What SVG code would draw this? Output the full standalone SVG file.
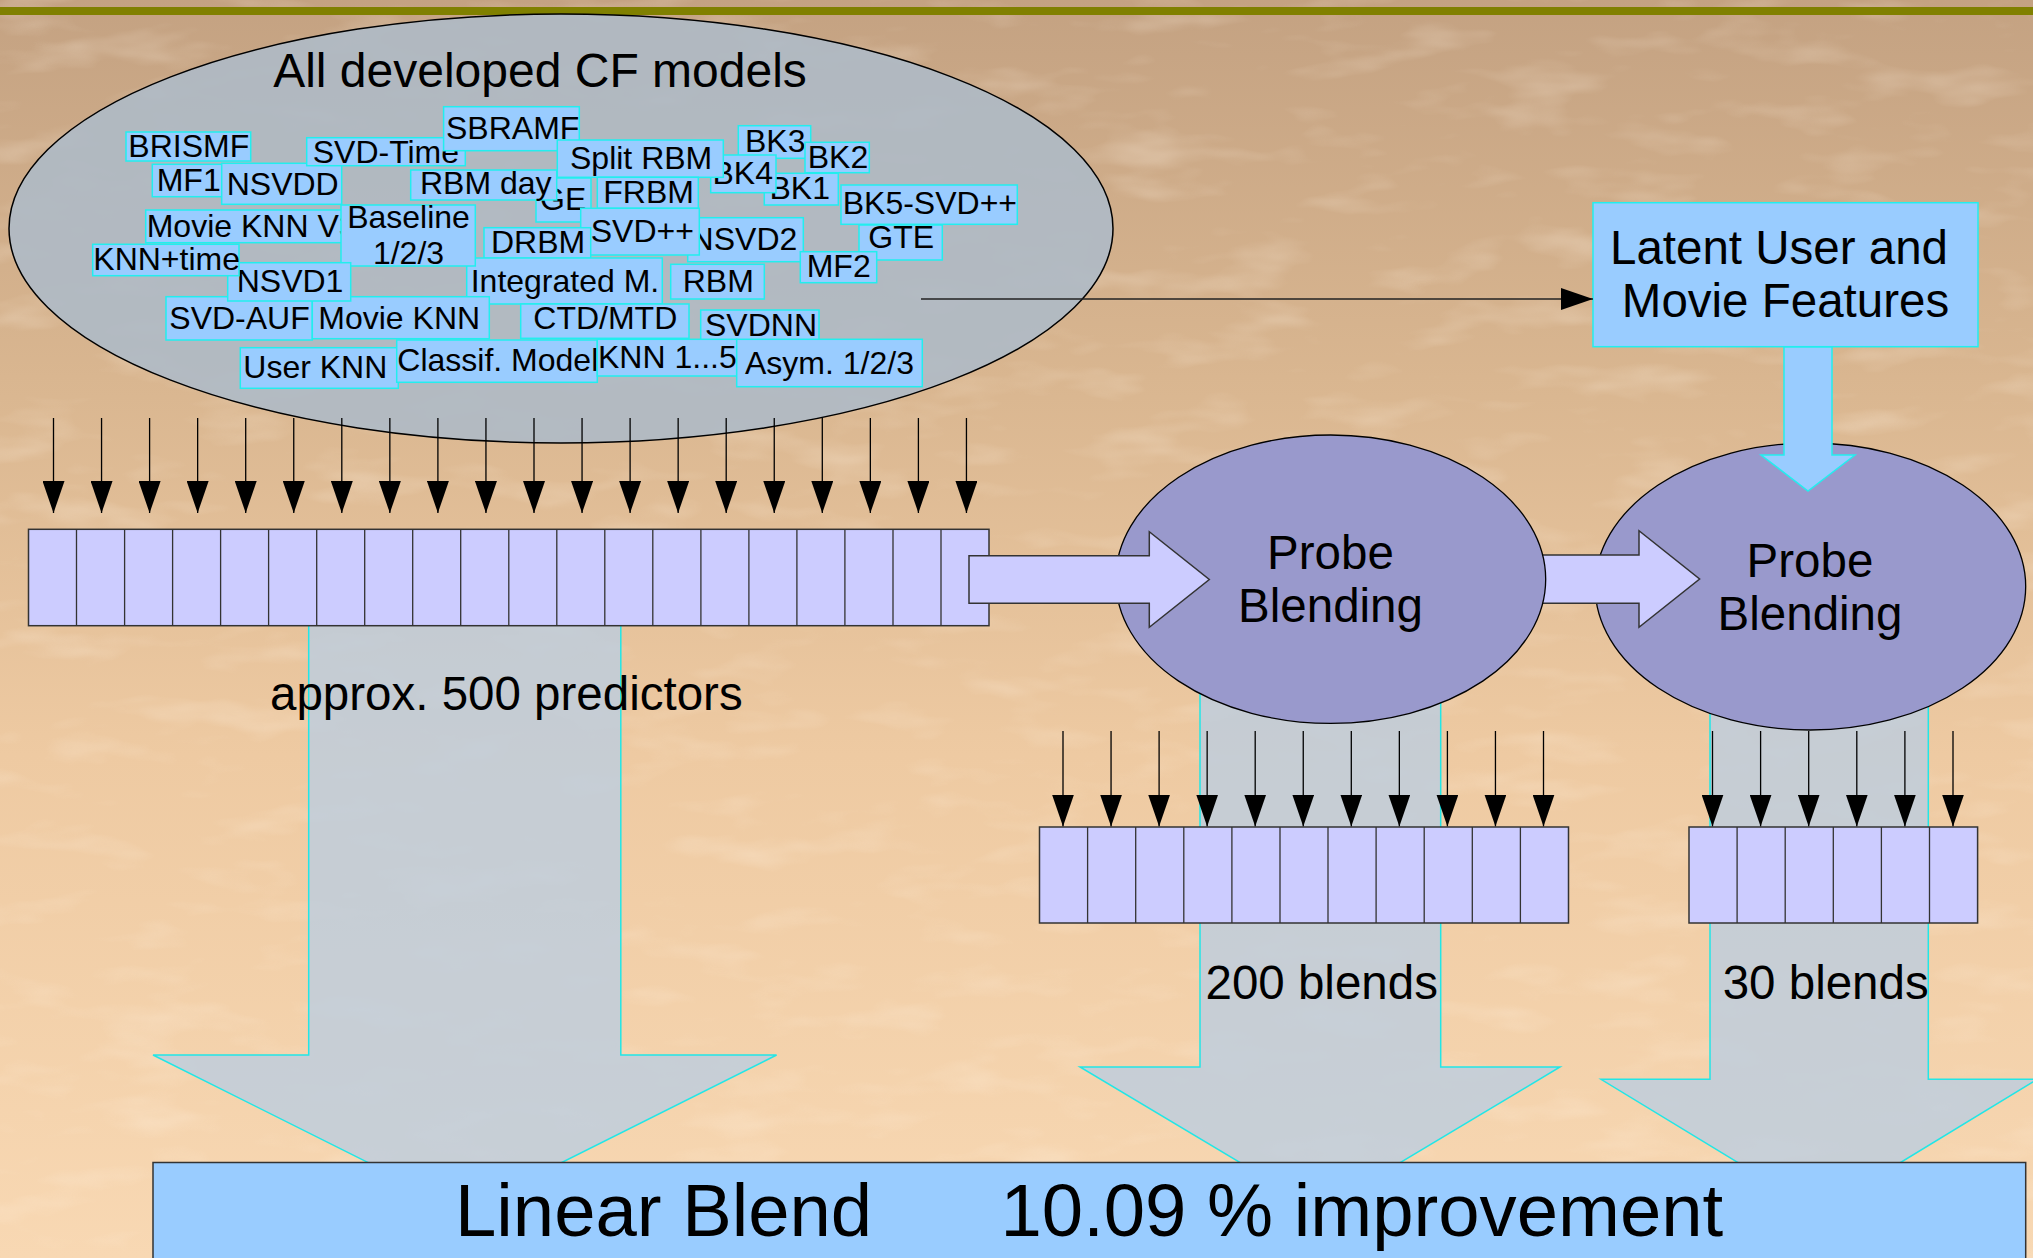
<svg xmlns="http://www.w3.org/2000/svg" width="2033" height="1258" viewBox="0 0 2033 1258">
  <style>
    text { font-family: "Liberation Sans", Arial, sans-serif; fill: #000; }
    .lbl { font-size: 32px; }
    .big { font-size: 47.5px; }
    .huge { font-size: 74.3px; }
    .mid { text-anchor: middle; }
    .tag { fill: #99ccff; stroke: #22eeee; stroke-width: 1.5; }
    .flow { fill: #bccde0; fill-opacity: 0.8; stroke: #22e6e6; stroke-width: 1.5; }
    .cell { fill: #ccccff; stroke: #333; stroke-width: 1.5; }
    .div { stroke: #333; stroke-width: 1.3; }
    .feed line { stroke: #000; stroke-width: 1.3; marker-end: url(#ah); }
    .probe { fill: #9999cc; stroke: #000; stroke-width: 1.3; }
    .block { fill: #ccccff; stroke: #333; stroke-width: 1.5; }
  </style>
  <defs>
    <linearGradient id="bg" x1="0" y1="0" x2="0" y2="1">
      <stop offset="0" stop-color="#c4a282"/>
      <stop offset="0.3" stop-color="#d9b690"/>
      <stop offset="0.6" stop-color="#eecaa2"/>
      <stop offset="1" stop-color="#f8d8b3"/>
    </linearGradient>
    <filter id="grain" x="0" y="0" width="100%" height="100%">
      <feTurbulence type="fractalNoise" baseFrequency="0.01 0.03" numOctaves="3" seed="11"/>
      <feColorMatrix type="matrix" values="0 0 0 0 1  0 0 0 0 0.9  0 0 0 0 0.78  2.6 0 0 0 -1.35"/>
    </filter>
    <marker id="ah" viewBox="0 0 32 22" refX="32" refY="11" markerWidth="32" markerHeight="22" markerUnits="userSpaceOnUse" orient="auto">
      <path d="M0,0 L32,11 L0,22 Z" fill="#000"/>
    </marker>
  </defs>

  <!-- background -->
  <rect x="0" y="0" width="2033" height="1258" fill="url(#bg)"/>
  <rect x="0" y="0" width="2033" height="1258" filter="url(#grain)" opacity="0.25"/>
  <rect x="0" y="7" width="2033" height="8" fill="#808000"/>

  <!-- wide translucent arrows into the final blend -->
  <g id="flows">
    <polygon class="flow" points="308.7,600 620.8,600 620.8,1055 776.6,1055 464.8,1211 153,1055 308.7,1055"/>
    <polygon class="flow" points="1200,650 1440.7,650 1440.7,1067 1560,1067 1320.3,1210.5 1080,1067 1200,1067"/>
    <polygon class="flow" points="1710,660 1928.3,660 1928.3,1079.3 2037.4,1079.3 1819.2,1212 1601,1079.3 1710,1079.3"/>
  </g>

  <!-- pool of collaborative filtering models -->
  <g id="cf-models">
    <ellipse cx="561" cy="228.5" rx="552" ry="214.5" fill="#aebac6" fill-opacity="0.9" stroke="#000" stroke-width="1.5"/>
    <text class="big mid" x="540" y="87" style="font-size:48px">All developed CF models</text>

    <g id="m-brismf"><rect class="tag" x="126" y="132" width="124.7" height="29"/><text class="lbl" x="128.3" y="156.7">BRISMF</text></g>
    <g id="m-mf1"><rect class="tag" x="152.3" y="164.3" width="71.7" height="32.4"/><text class="lbl" x="156.7" y="190.7">MF1</text></g>
    <g id="m-nsvdd"><rect class="tag" x="221.7" y="163.3" width="120" height="41"/><text class="lbl" x="226.7" y="195">NSVDD</text></g>
    <g id="m-svdtime"><rect class="tag" x="306.7" y="137.7" width="158.6" height="28"/><text class="lbl" x="312.7" y="162.7">SVD-Time</text></g>
    <g id="m-sbramf"><rect class="tag" x="443.6" y="106.7" width="135.7" height="44"/><text class="lbl" x="446" y="139.3">SBRAMF</text></g>
    <g id="m-bk3"><rect class="tag" x="738.3" y="125.7" width="72.4" height="32.6"/><text class="lbl" x="745" y="152.3">BK3</text></g>
    <g id="m-bk2"><rect class="tag" x="805" y="142.3" width="64.3" height="30.4"/><text class="lbl" x="807.7" y="168.3">BK2</text></g>
    <g id="m-bk1"><rect class="tag" x="764.3" y="173.3" width="74" height="31.7"/><text class="lbl" x="769.5" y="199">BK1</text></g>
    <g id="m-bk4"><rect class="tag" x="710.7" y="155" width="65.3" height="37.7"/><text class="lbl" x="712.5" y="184">BK4</text></g>
    <g id="m-splitrbm"><rect class="tag" x="557.3" y="140" width="166" height="37.3"/><text class="lbl" x="570" y="169">Split RBM</text></g>
    <g id="m-ge"><rect class="tag" x="536" y="178" width="55" height="44"/><text class="lbl" x="540" y="209.5">GE</text></g>
    <g id="m-rbmday"><rect class="tag" x="410.7" y="170" width="146" height="30"/><text class="lbl" x="420" y="194.3">RBM day</text></g>
    <g id="m-frbm"><rect class="tag" x="597.3" y="177.3" width="101" height="31"/><text class="lbl" x="603.3" y="203.3">FRBM</text></g>
    <g id="m-nsvd2"><rect class="tag" x="687.7" y="217.7" width="115.6" height="44"/><text class="lbl" x="690.6" y="250">NSVD2</text></g>
    <g id="m-svdpp"><rect class="tag" x="580.7" y="208.3" width="118.6" height="46.7"/><text class="lbl" x="590.7" y="241.7">SVD++</text></g>
    <g id="m-drbm"><rect class="tag" x="484" y="227.7" width="106.7" height="30.6"/><text class="lbl" x="491" y="252.7">DRBM</text></g>
    <g id="m-movieknnv3"><rect class="tag" x="145.7" y="210" width="197.3" height="32.7"/><text class="lbl" x="146.7" y="236.7">Movie KNN V3</text></g>
    <g id="m-integrated"><rect class="tag" x="466.7" y="258" width="195.6" height="46"/><text class="lbl" x="470.7" y="291.7">Integrated M.</text></g>
    <g id="m-baseline"><rect class="tag" x="341" y="205" width="134.3" height="61"/><text class="lbl mid" x="408.5" y="228.3">Baseline</text><text class="lbl mid" x="408.5" y="264">1/2/3</text></g>
    <g id="m-gte"><rect class="tag" x="859" y="225" width="83.3" height="35"/><text class="lbl" x="868.3" y="248.3">GTE</text></g>
    <g id="m-mf2"><rect class="tag" x="800.3" y="251.7" width="76.4" height="31"/><text class="lbl" x="806.7" y="276.7">MF2</text></g>
    <g id="m-bk5"><rect class="tag" x="841" y="185" width="176.3" height="39.3"/><text class="lbl" x="842.7" y="214.3">BK5-SVD++</text></g>
    <g id="m-svdauf"><rect class="tag" x="166" y="296.7" width="146.3" height="43.3"/><text class="lbl" x="169.3" y="328.7">SVD-AUF</text></g>
    <g id="m-movieknn"><rect class="tag" x="312.3" y="296.7" width="177" height="42"/><text class="lbl" x="318.3" y="328.7">Movie KNN</text></g>
    <g id="m-nsvd1"><rect class="tag" x="227.7" y="262.7" width="123" height="38.3"/><text class="lbl" x="236.7" y="292.3">NSVD1</text></g>
    <g id="m-knntime"><rect class="tag" x="92.7" y="244.3" width="146.3" height="31.4"/><text class="lbl" x="93.3" y="270">KNN+time</text></g>
    <g id="m-ctdmtd"><rect class="tag" x="520.7" y="304" width="168.3" height="34.3"/><text class="lbl" x="533.3" y="329">CTD/MTD</text></g>
    <g id="m-rbm"><rect class="tag" x="670.7" y="264.3" width="93.6" height="34.7"/><text class="lbl" x="682.7" y="291.7">RBM</text></g>
    <g id="m-svdnn"><rect class="tag" x="700.7" y="310" width="118.3" height="31.7"/><text class="lbl" x="705" y="336">SVDNN</text></g>
    <g id="m-userknn"><rect class="tag" x="240.3" y="347.7" width="158" height="40.6"/><text class="lbl" x="243.3" y="378.3">User KNN</text></g>
    <g id="m-classif"><rect class="tag" x="396.7" y="340" width="200.6" height="42.3"/><text class="lbl" x="397.3" y="370.7">Classif. Models</text></g>
    <g id="m-knn15"><rect class="tag" x="597.3" y="339.3" width="139.4" height="36.7"/><text class="lbl" x="598" y="368.3">KNN 1...5</text></g>
    <g id="m-asym"><rect class="tag" x="736.7" y="339.3" width="185.6" height="47.4"/><text class="lbl" x="745" y="374.3">Asym. 1/2/3</text></g>
  </g>

  <!-- latent feature box -->
  <g id="latent">
    <rect class="tag" x="1593" y="202.7" width="385" height="144"/>
    <text class="big mid" x="1779" y="264">Latent User and</text>
    <text class="big mid" x="1785.5" y="317">Movie Features</text>
  </g>

  <!-- second probe blending stage -->
  <g id="probe2">
    <ellipse class="probe" cx="1810.4" cy="586.5" rx="215.3" ry="143.5"/>
    <text class="big mid" x="1810" y="577">Probe</text>
    <text class="big mid" x="1810" y="630">Blending</text>
  </g>

  <g id="connectors">
    <!-- model outputs into predictor vector -->
    <g class="feed">
      <line x1="53.5" y1="418" x2="53.5" y2="513"/>
      <line x1="101.55" y1="418" x2="101.55" y2="513"/>
      <line x1="149.6" y1="418" x2="149.6" y2="513"/>
      <line x1="197.65" y1="418" x2="197.65" y2="513"/>
      <line x1="245.7" y1="418" x2="245.7" y2="513"/>
      <line x1="293.75" y1="418" x2="293.75" y2="513"/>
      <line x1="341.8" y1="418" x2="341.8" y2="513"/>
      <line x1="389.85" y1="418" x2="389.85" y2="513"/>
      <line x1="437.9" y1="418" x2="437.9" y2="513"/>
      <line x1="485.95" y1="418" x2="485.95" y2="513"/>
      <line x1="534" y1="418" x2="534" y2="513"/>
      <line x1="582.05" y1="418" x2="582.05" y2="513"/>
      <line x1="630.1" y1="418" x2="630.1" y2="513"/>
      <line x1="678.15" y1="418" x2="678.15" y2="513"/>
      <line x1="726.2" y1="418" x2="726.2" y2="513"/>
      <line x1="774.25" y1="418" x2="774.25" y2="513"/>
      <line x1="822.3" y1="418" x2="822.3" y2="513"/>
      <line x1="870.35" y1="418" x2="870.35" y2="513"/>
      <line x1="918.4" y1="418" x2="918.4" y2="513"/>
      <line x1="966.45" y1="418" x2="966.45" y2="513"/>
      <!-- models to latent features -->
      <line x1="921" y1="299" x2="1593" y2="299" style="stroke:#222"/>
    </g>
    <!-- latent features into second probe blend -->
    <path d="M1784,347 H1832 V455 H1855 L1808,491 L1761,455 H1784 Z" fill="#99ccff" stroke="#22eeee" stroke-width="1.5"/>
    <!-- first probe blend to second -->
    <path class="block" d="M1520,555 H1639 V530.7 L1699.6,579 L1639,627.3 V603.3 H1520 Z"/>
  </g>

  <!-- first probe blending stage -->
  <g id="probe1">
    <ellipse class="probe" cx="1330.7" cy="579.2" rx="215" ry="144.2"/>
    <text class="big mid" x="1330.5" y="569">Probe</text>
    <text class="big mid" x="1330.5" y="622">Blending</text>
  </g>

  <g id="connectors-2">
    <!-- blend outputs into the blend vectors -->
    <g class="feed">
      <line x1="1063" y1="731" x2="1063" y2="826.5"/>
      <line x1="1111.05" y1="731" x2="1111.05" y2="826.5"/>
      <line x1="1159.1" y1="731" x2="1159.1" y2="826.5"/>
      <line x1="1207.15" y1="731" x2="1207.15" y2="826.5"/>
      <line x1="1255.2" y1="731" x2="1255.2" y2="826.5"/>
      <line x1="1303.25" y1="731" x2="1303.25" y2="826.5"/>
      <line x1="1351.3" y1="731" x2="1351.3" y2="826.5"/>
      <line x1="1399.35" y1="731" x2="1399.35" y2="826.5"/>
      <line x1="1447.4" y1="731" x2="1447.4" y2="826.5"/>
      <line x1="1495.45" y1="731" x2="1495.45" y2="826.5"/>
      <line x1="1543.5" y1="731" x2="1543.5" y2="826.5"/>
      <line x1="1712.5" y1="731" x2="1712.5" y2="826.5"/>
      <line x1="1760.6" y1="731" x2="1760.6" y2="826.5"/>
      <line x1="1808.7" y1="731" x2="1808.7" y2="826.5"/>
      <line x1="1856.8" y1="731" x2="1856.8" y2="826.5"/>
      <line x1="1904.9" y1="731" x2="1904.9" y2="826.5"/>
      <line x1="1953" y1="731" x2="1953" y2="826.5"/>
    </g>
  </g>

  <!-- predictor vector -->
  <g id="predictors">
    <rect class="cell" x="28.5" y="529.3" width="960.5" height="96.4"/>
    <path class="div" d="M76.5,529.3V625.7 M124.6,529.3V625.7 M172.6,529.3V625.7 M220.6,529.3V625.7 M268.6,529.3V625.7 M316.7,529.3V625.7 M364.7,529.3V625.7 M412.7,529.3V625.7 M460.7,529.3V625.7 M508.8,529.3V625.7 M556.8,529.3V625.7 M604.8,529.3V625.7 M652.8,529.3V625.7 M700.9,529.3V625.7 M748.9,529.3V625.7 M796.9,529.3V625.7 M844.9,529.3V625.7 M893,529.3V625.7 M941,529.3V625.7"/>
    <text class="big" x="270" y="710">approx. 500 predictors</text>
  </g>

  <!-- predictor vector into first probe blend -->
  <g id="connectors-3">
    <path class="block" d="M969,555.7 H1149.3 V531.7 L1209.3,579.5 L1149.3,627.3 V603.3 H969 Z"/>
  </g>

  <!-- 200 blends vector -->
  <g id="blends200">
    <rect class="cell" x="1039.5" y="827" width="529" height="96"/>
    <path class="div" d="M1087.6,827V923 M1135.7,827V923 M1183.8,827V923 M1231.9,827V923 M1280,827V923 M1328,827V923 M1376.1,827V923 M1424.2,827V923 M1472.3,827V923 M1520.4,827V923"/>
    <text class="big" x="1205.5" y="999">200 blends</text>
  </g>

  <!-- 30 blends vector -->
  <g id="blends30">
    <rect class="cell" x="1689" y="827" width="288.6" height="96"/>
    <path class="div" d="M1737.1,827V923 M1785.2,827V923 M1833.3,827V923 M1881.4,827V923 M1929.5,827V923"/>
    <text class="big" x="1722.7" y="999">30 blends</text>
  </g>

  <!-- final linear blend -->
  <g id="linear-blend">
    <rect x="153" y="1162.5" width="1872.7" height="120" fill="#99ccff" stroke="#333" stroke-width="1.5"/>
    <text class="huge" x="455" y="1236">Linear Blend</text>
    <text class="huge" x="1000.5" y="1236">10.09 % improvement</text>
  </g>
</svg>
